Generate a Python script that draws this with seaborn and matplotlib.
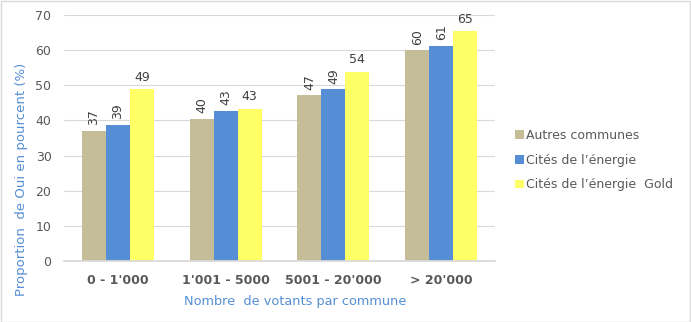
import matplotlib
matplotlib.use("Agg")
import matplotlib.pyplot as plt
import seaborn as sns
import pandas as pd
from matplotlib.patches import Patch

categories = ["0 - 1'000", "1'001 - 5000", "5001 - 20'000", "> 20'000"]
series_names = ["Autres communes", "Cités de l’énergie", "Cités de l’énergie  Gold"]
autres = [37.0, 40.4, 47.2, 60.0]
cites = [38.7, 42.7, 48.9, 61.2]
gold = [48.9, 43.3, 53.9, 65.4]
colors = ["#C4BD97", "#558ED5", "#FFFF66"]

rows = []
for name, vals in zip(series_names, [autres, cites, gold]):
    for c, v in zip(categories, vals):
        rows.append({"cat": c, "serie": name, "val": v})
df = pd.DataFrame(rows)

sns.set_theme(style="white")
plt.rcParams['font.family'] = ['DejaVu Sans']

fig = plt.figure(figsize=(6.91, 3.22), dpi=100)
ax = fig.add_axes([64/691, 1 - 261/322, (495-64)/691, (261-15)/322])
sns.barplot(data=df, x="cat", y="val", hue="serie", palette=colors, width=0.667,
            ax=ax, legend=False, saturation=1, errorbar=None)
for p in ax.patches:
    p.set_edgecolor("none")

ax.set_ylim(0, 70)
ax.set_yticks(range(0, 71, 10))
ax.yaxis.grid(True, color="#D9D9D9", linewidth=0.8)
ax.set_axisbelow(True)
for s in ["top", "right", "left"]:
    ax.spines[s].set_visible(False)
ax.spines["bottom"].set_color("#D9D9D9")
ax.tick_params(axis="y", length=0, labelsize=9, labelcolor="#595959", pad=9)
ax.tick_params(axis="x", length=0, labelsize=9, labelcolor="#595959", pad=9)
for lab in ax.get_xticklabels():
    lab.set_fontweight("bold")
ax.set_xlabel("Nombre  de votants par commune", color="#558ED5", fontsize=9.3)
ax.xaxis.set_label_coords((295 - 64) / 431, -(295 - 261) / 246)
ax.set_ylabel("Proportion  de Oui en pourcent (%)", color="#558ED5", fontsize=9.5)
ax.yaxis.set_label_coords(-(64 - 28) / 431, (261 - 179) / 246)

for i, cont in enumerate(ax.containers):
    rot = 0 if i == 2 else 90
    labels = [f"{round(v):d}" for v in cont.datavalues]
    ax.bar_label(cont, labels=labels, rotation=rot, padding=4, fontsize=9, color="#404040")

handles = [Patch(facecolor=c, edgecolor="none") for c in colors]
fig.legend(handles, series_names, loc="center left", bbox_to_anchor=(504/691, 1 - 160/322),
           frameon=False, fontsize=9, labelcolor="#595959", handlelength=0.7, handleheight=0.7,
           handletextpad=0.2, labelspacing=0.95)

border = plt.Rectangle((0.5/691, 0.5/322), 1 - 1.5/691, 1 - 1.5/322, transform=fig.transFigure,
                       fill=False, edgecolor="#D9D9D9", linewidth=1)
fig.patches.append(border)
fig.savefig("out.png", dpi=100)
